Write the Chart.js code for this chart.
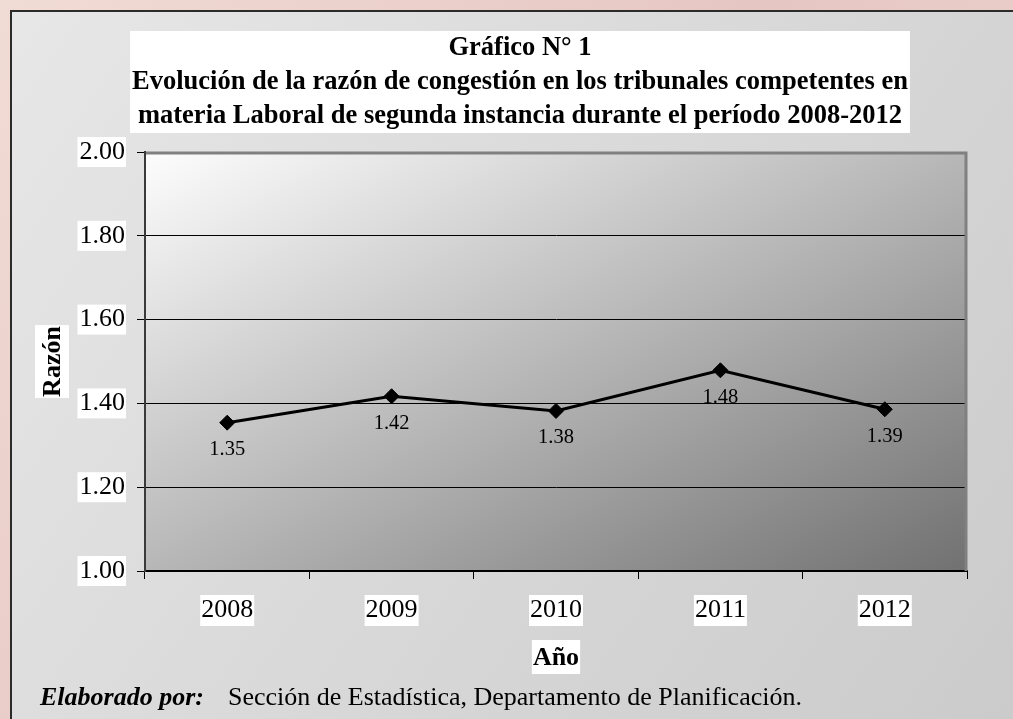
<!DOCTYPE html>
<html>
<head>
<meta charset="utf-8">
<script src="https://cdn.jsdelivr.net/npm/chart.js@4.4.1/dist/chart.umd.min.js"></script>
<style>
  html, body { margin: 0; padding: 0; background: #ecd3cc; overflow: hidden; }
  #wrap { width: 1013px; height: 719px; position: relative; }
  canvas { display: block; }
</style>
</head>
<body>
<div id="wrap"><canvas id="chartRazon" width="1013" height="719"></canvas></div>
<script>
// datos
var anios = ['2008', '2009', '2010', '2011', '2012'];
var razon = [1.354, 1.417, 1.382, 1.479, 1.386];
var tituloLineas = ['Gráfico N° 1',
  'Evolución de la razón de congestión en los tribunales competentes en',
  'materia Laboral de segunda instancia durante el período 2008-2012'];
var tituloY = 'Razón';
var tituloX = 'Año';
var fuenteNegrita = 'Elaborado por:';
var fuenteTexto = 'Sección de Estadística, Departamento de Planificación.';

var SERIF = "'Liberation Serif', 'Times New Roman', serif";

var fondoPlugin = {
  id: 'fondo',
  beforeDraw: function(chart){
    var ctx = chart.ctx, W = chart.width, H = chart.height, a = chart.chartArea;
    ctx.save();
    // fondo rosado de la pagina
    var g = ctx.createLinearGradient(0, 0, W, H);
    g.addColorStop(0, '#f1dcd5');
    g.addColorStop(0.5, '#e6c6c3');
    g.addColorStop(1, '#efd8d2');
    ctx.fillStyle = g;
    ctx.fillRect(0, 0, W, H);
    // recuadro gris
    g = ctx.createLinearGradient(10, 10, W, H);
    g.addColorStop(0, '#e7e7e7');
    g.addColorStop(1, '#cbcbcb');
    ctx.fillStyle = g;
    ctx.fillRect(10, 10, W, H);
    ctx.strokeStyle = '#2b2b2b';
    ctx.lineWidth = 2;
    ctx.beginPath();
    ctx.moveTo(11, H + 2); ctx.lineTo(11, 11); ctx.lineTo(W + 2, 11);
    ctx.stroke();
    // area de trazado con degradado diagonal
    var w = a.right - a.left, h = a.bottom - a.top;
    var cx = a.left + w / 2, cy = a.top + h / 2;
    var k = w * h / (w * w + h * h);
    g = ctx.createLinearGradient(cx - k * h, cy - k * w, cx + k * h, cy + k * w);
    g.addColorStop(0, '#fdfdfd');
    g.addColorStop(1, '#717171');
    ctx.fillStyle = g;
    ctx.fillRect(a.left, a.top, w, h);

    ctx.fillStyle = '#ffffff';
    // caja blanca del titulo
    var tb = chart.titleBlock;
    ctx.font = 'bold 26.5px ' + SERIF;
    var maxW = 0;
    tituloLineas.forEach(function(t){ maxW = Math.max(maxW, ctx.measureText(t).width); });
    var tcx = (tb.left + tb.right) / 2;
    ctx.fillRect(tcx - maxW / 2 - 2, tb.top + 31, maxW + 4, 102);

    // cajas blancas de las etiquetas de los ejes
    ctx.font = '26px ' + SERIF;
    var ys = chart.scales.y, xs = chart.scales.x;
    ys.ticks.forEach(function(t, i){
      var lbl = Number(t.value).toFixed(2);
      var tw = ctx.measureText(lbl).width;
      var py = ys.getPixelForTick(i);
      ctx.fillRect(ys.right - 20 - tw - 2, py - 15, tw + 3, 30);
    });
    xs.ticks.forEach(function(t, i){
      var lbl = anios[i];
      var tw = ctx.measureText(lbl).width;
      var px = xs.getPixelForTick(i);
      ctx.fillRect(px - tw / 2 - 1, xs.top + 24, tw + 2, 31);
    });

    // titulos de los ejes
    ctx.font = 'bold 26px ' + SERIF;
    var wx = ctx.measureText(tituloX).width;
    var axc = (a.left + a.right) / 2;
    ctx.fillRect(axc - wx / 2 - 1, 640, wx + 2, 34);
    ctx.fillStyle = '#000';
    ctx.textAlign = 'center';
    ctx.textBaseline = 'middle';
    ctx.fillText(tituloX, axc, 658);

    var wy = ctx.measureText(tituloY).width;
    var ayc = (a.top + a.bottom) / 2;
    ctx.save();
    ctx.translate(52, ayc);
    ctx.rotate(-Math.PI / 2);
    ctx.fillStyle = '#fff';
    ctx.fillRect(-wy / 2 - 1, -17, wy + 2, 34);
    ctx.fillStyle = '#000';
    ctx.fillText(tituloY, 0, 1);
    ctx.restore();

    // fuente
    ctx.textAlign = 'left';
    ctx.textBaseline = 'alphabetic';
    ctx.font = 'italic bold 26px ' + SERIF;
    ctx.fillText(fuenteNegrita, 40, 705);
    ctx.font = '26px ' + SERIF;
    ctx.fillText(fuenteTexto, 228, 705);
    ctx.restore();
  },
  beforeDatasetsDraw: function(chart){
    var ctx = chart.ctx, a = chart.chartArea;
    ctx.save();
    ctx.strokeStyle = '#808080';
    ctx.lineWidth = 3;
    ctx.beginPath();
    ctx.moveTo(a.left + 1, a.top + 1);
    ctx.lineTo(a.right - 1, a.top + 1);
    ctx.lineTo(a.right - 1, a.bottom);
    ctx.stroke();
    ctx.restore();
  },
  afterDatasetsDraw: function(chart){
    var ctx = chart.ctx;
    var meta = chart.getDatasetMeta(0);
    ctx.save();
    ctx.font = '20.5px ' + SERIF;
    ctx.fillStyle = '#000';
    ctx.textAlign = 'center';
    ctx.textBaseline = 'middle';
    meta.data.forEach(function(p, i){
      ctx.fillText(razon[i].toFixed(2), p.x, p.y + 27);
    });
    ctx.restore();
  }
};

var ctx = document.getElementById('chartRazon').getContext('2d');
var chartRazon = new Chart(ctx, {
  type: 'line',
  data: {
    labels: anios,
    datasets: [{
      label: 'Razón',
      data: razon,
      borderColor: '#000',
      borderWidth: 3,
      backgroundColor: '#000',
      pointStyle: 'rectRot',
      pointRadius: 7.5,
      pointBorderWidth: 1,
      pointBorderColor: '#000',
      pointBackgroundColor: '#000',
      tension: 0,
      fill: false
    }]
  },
  plugins: [fondoPlugin],
  options: {
    responsive: false,
    animation: false,
    devicePixelRatio: 1,
    layout: { padding: { left: 73, right: 46, top: 0, bottom: 92 } },
    plugins: {
      legend: { display: false },
      tooltip: { enabled: false },
      title: {
        display: true,
        text: tituloLineas,
        color: '#000',
        font: { family: SERIF, size: 26.5, weight: 'bold', lineHeight: '34px' },
        padding: { top: 31, bottom: 19 }
      }
    },
    scales: {
      x: {
        offset: true,
        afterFit: function(s){ s.height = 56; },
        grid: { offset: true, drawOnChartArea: false, drawTicks: true, tickLength: 8, color: '#000', lineWidth: 1 },
        border: { color: '#000', width: 2 },
        ticks: { color: '#000', padding: 16, font: { family: SERIF, size: 26 } }
      },
      y: {
        min: 1, max: 2,
        afterFit: function(s){ s.width = 72; },
        grid: {
          color: function(c){ return c.tick && c.tick.value === 2 ? 'rgba(0,0,0,0)' : '#000'; },
          tickColor: '#000',
          lineWidth: 1,
          tickLength: 8
        },
        border: { color: '#3a3a3a', width: 2 },
        ticks: {
          stepSize: 0.2,
          color: '#000',
          padding: 12,
          font: { family: SERIF, size: 26 },
          callback: function(v){ return Number(v).toFixed(2); }
        }
      }
    }
  }
});
</script>
</body>
</html>
